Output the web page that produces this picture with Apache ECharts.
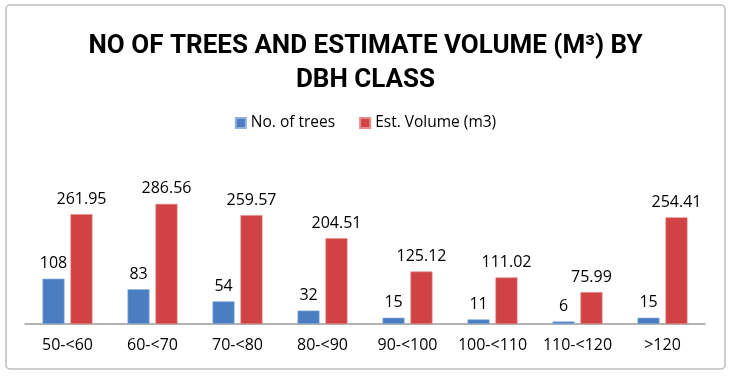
<!DOCTYPE html>
<html>
<head>
<meta charset="utf-8">
<script src="https://cdn.jsdelivr.net/npm/echarts@6/dist/echarts.min.js"></script>
<style>
  html, body { margin: 0; padding: 0; background: #fff; }
  #main { width: 731px; height: 376px; }
</style>
</head>
<body>
<div id="main"></div>
<script>
// dbh classes + values
const classes = ['50-<60', '60-<70', '70-<80', '80-<90', '90-<100', '100-<110', '110-<120', '>120'];
const noOfTrees = [108, 83, 54, 32, 15, 11, 6, 15];
const estVolume = [261.95, 286.56, 259.57, 204.51, 125.12, 111.02, 75.99, 254.41];

const myChart = echarts.init(document.getElementById('main'));
const labelStyle = {
  show: true,
  position: 'top',
  distance: 7,
  color: '#000',
  fontSize: 16,
  fontFamily: 'Open Sans'
};
const option = {
  animation: false,
  title: {
    text: 'NO OF TREES AND ESTIMATE VOLUME (M³) BY\nDBH CLASS',
    left: 'center',
    top: 24,
    textStyle: {
      fontFamily: 'Roboto',
      fontWeight: 'bold',
      fontSize: 26,
      lineHeight: 34,
      color: '#000'
    }
  },
  legend: {
    top: 110,
    left: 'center',
    itemWidth: 10,
    itemHeight: 10,
    itemGap: 24,
    textStyle: { fontSize: 15.5, fontFamily: 'Open Sans', color: '#000' },
    data: [
      { name: 'No. of trees', icon: 'rect' },
      { name: 'Est. Volume (m3)', icon: 'rect' }
    ]
  },
  graphic: [{
    type: 'rect',
    shape: { x: 6, y: 5, width: 719, height: 364, r: 4 },
    style: { fill: 'none', stroke: '#bdbdbd', lineWidth: 1.5 },
    silent: true
  }],
  grid: { left: 25, right: 26, top: 150, bottom: 52 },
  xAxis: {
    type: 'category',
    data: classes,
    axisTick: { show: false },
    axisLine: { lineStyle: { color: '#999', width: 1.5 } },
    axisLabel: { color: '#000', fontSize: 16, fontFamily: 'Open Sans', margin: 13, interval: 0 }
  },
  yAxis: {
    type: 'value',
    min: 0,
    max: 415,
    show: false,
    splitLine: { show: false }
  },
  series: [
    {
      name: 'No. of trees',
      type: 'bar',
      data: noOfTrees,
      barWidth: 22,
      barGap: '27%',
      itemStyle: { color: '#4a7dc2', borderColor: '#8fb0dc', borderWidth: 0.6 },
      label: labelStyle
    },
    {
      name: 'Est. Volume (m3)',
      type: 'bar',
      data: estVolume,
      barWidth: 22,
      itemStyle: { color: '#d04244', borderColor: '#e48a8a', borderWidth: 0.6 },
      label: labelStyle
    }
  ]
};
myChart.setOption(option);
window.onresize = myChart.resize;
</script>
</body>
</html>
